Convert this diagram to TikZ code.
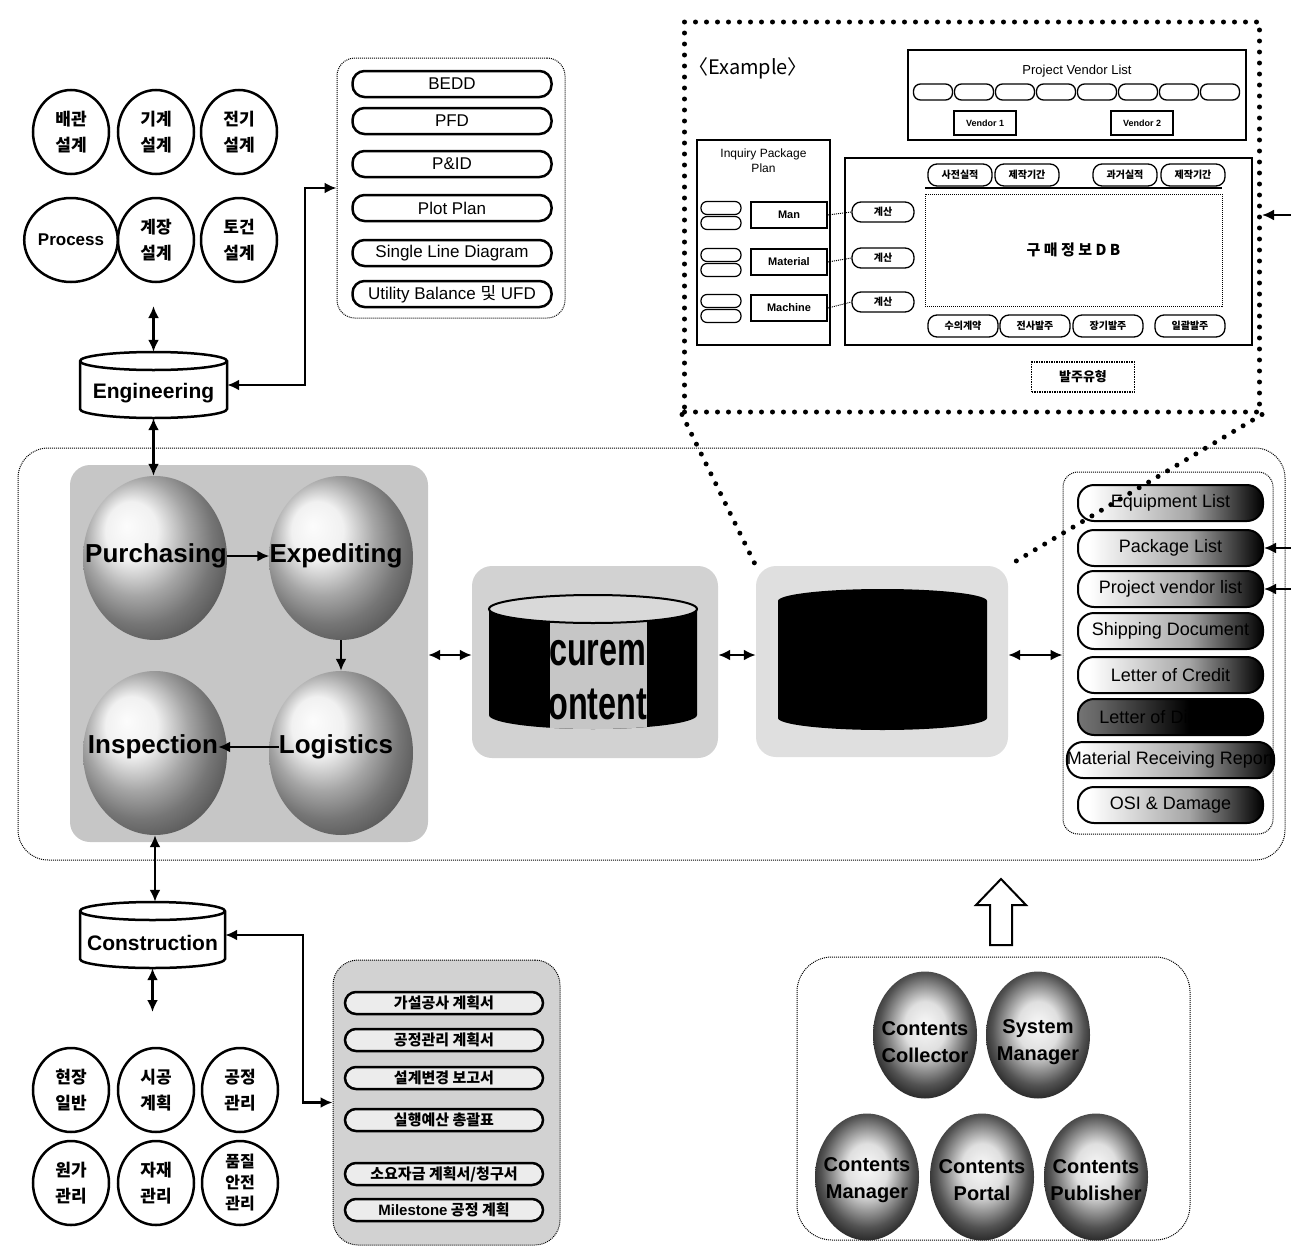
\documentclass[tikz,border=0pt]{standalone}
\usepackage{fontspec}
\setmainfont{Liberation Sans}
\newfontfamily\kr{Noto Sans CJK KR}
\usetikzlibrary{arrows.meta,shapes.geometric,shapes.misc,calc}
\pgfdeclarehorizontalshading{pillfade}{100bp}{color(0bp)=(white); color(28bp)=(white); color(55bp)=(gray!70); color(75bp)=(black); color(100bp)=(black)}
\pgfdeclarehorizontalshading{pilldark}{100bp}{color(0bp)=(gray!55); color(30bp)=(gray!80!black); color(55bp)=(black); color(100bp)=(black)}
\pgfdeclareradialshading{darkball}{\pgfpoint{0bp}{4bp}}{color(0bp)=(gray!5); color(10bp)=(gray!25); color(22bp)=(gray!65!black); color(32bp)=(black); color(50bp)=(black)}
\tikzset{
  ah/.tip={Latex[length=12pt,width=11pt]},
  conn/.style={line width=2.5pt, ah-ah},
  conn1/.style={line width=2.2pt, -ah},
  dotbox/.style={draw, densely dotted, line width=1pt, inner sep=0pt},
  bigdots/.style={line width=5pt, dash pattern=on 0pt off 11pt, line cap=round},
  greybox/.style={fill=gray!45, rounded corners=20pt, inner sep=0pt},
  circ/.style={ellipse, draw, line width=2.5pt, fill=white, minimum width=76pt, minimum height=84pt, inner sep=0pt, align=center, font=\kr\bfseries\fontsize{17}{26}\selectfont},
  tpill/.style={draw, line width=2.5pt, fill=white, rounded corners=12pt, minimum width=199pt, minimum height=26pt, inner sep=0pt, font=\fontsize{17}{17}\selectfont},
  bpill/.style={draw, line width=2.5pt, fill=gray!15, rounded corners=11pt, minimum width=198pt, minimum height=22pt, inner sep=0pt, font=\kr\bfseries\fontsize{15}{15}\selectfont},
  rpill/.style={draw, line width=2pt, shade, shading=pillfade, rounded corners=16pt, minimum width=185pt, minimum height=36pt, inner sep=0pt, font=\fontsize{18}{18}\selectfont},
  ball4/.style={ellipse, shade, ball color=gray!15, minimum width=144pt, minimum height=164pt, inner sep=0pt},
  bigtxt/.style={font=\bfseries\fontsize{26}{26}\selectfont, inner sep=0pt},
  dball/.style={ellipse, shade, shading=darkball, minimum width=104pt, minimum height=127pt, inner sep=0pt},
  balltxt/.style={align=center, inner sep=0pt, font=\bfseries\fontsize{20}{27}\selectfont},
  minipill/.style={draw, line width=1.3pt, fill=white, rounded corners=7pt, minimum width=39pt, minimum height=16pt, inner sep=0pt},
  vbox/.style={draw, line width=1.5pt, minimum width=62pt, minimum height=24pt, inner sep=0pt, font=\bfseries\fontsize{9}{9}\selectfont},
  rowbox/.style={draw, line width=2pt, minimum width=76pt, minimum height=26pt, inner sep=0pt, font=\bfseries\fontsize{11}{11}\selectfont},
  tinypill/.style={draw, line width=1.2pt, rounded corners=6pt, minimum width=40pt, minimum height=13pt, inner sep=0pt},
  kpill/.style={draw, line width=1.3pt, rounded corners=9pt, minimum width=62pt, minimum height=20pt, inner sep=0pt, font=\kr\bfseries\fontsize{10}{10}\selectfont},
}
\begin{document}
\begin{tikzpicture}[x=1pt,y=-1pt]
\useasboundingbox (0,0) rectangle (1291,1250);

% ---------- middle outer box ----------
\node[dotbox, rounded corners=30pt, minimum width=1267pt, minimum height=412pt] (mid) at (651.5,654) {};
\node[greybox, minimum width=358pt, minimum height=377pt] (cbox) at (249,653.5) {};
\node[greybox, fill=gray!35, minimum width=246pt, minimum height=192pt] (pbox) at (595,662) {};
\node[greybox, fill=gray!25, minimum width=252pt, minimum height=191pt] (bbox) at (882,661.5) {};

% four spheres
\node[ball4] (pc) at (155,558) {};
\node[ball4] (ec) at (341,558) {};
\node[ball4] (ic) at (155,753) {};
\node[ball4] (lc) at (341,753) {};
\node[bigtxt] (pt) at (156,556) {Purchasing};
\node[bigtxt] (et) at (336,556) {Expediting};
\node[bigtxt] (it) at (153,747) {Inspection};
\node[bigtxt] (lt) at (336,747) {Logistics};
\draw[conn1] (pt.east) -- (et.west);
\draw[conn1] (ec.south) -- (lc.north);
\draw[conn1] (lt.west) -- (it.east);

% procurement cylinder
\begin{scope}
\fill[black] (489,609) -- (489,715) arc[start angle=180,end angle=360,x radius=104pt,y radius=14pt] -- (697,609) arc[start angle=0,end angle=180,x radius=104pt,y radius=14pt] -- cycle;
\clip (489,609) -- (489,715) arc[start angle=180,end angle=360,x radius=104pt,y radius=14pt] -- (697,609) arc[start angle=0,end angle=180,x radius=104pt,y radius=14pt] -- cycle;
\clip (550,600) rectangle (647,740);
\fill[gray!45] (550,600) rectangle (647,740);
\node[inner sep=0pt, font=\bfseries\fontsize{36}{36}\selectfont] (ptx1) at (595,650) {\scalebox{0.9}[1.3]{Procurement}};
\node[inner sep=0pt, font=\bfseries\fontsize{36}{36}\selectfont] (ptx2) at (595,703) {\scalebox{0.9}[1.3]{Contents}};
\end{scope}
\draw[line width=2pt, fill=gray!30] (593,609) ellipse[x radius=104pt, y radius=14pt];

% black cylinder
\fill[black] (778,601) -- (778,718) arc[start angle=180,end angle=360,x radius=104.5pt,y radius=12pt] -- (987,601) arc[start angle=0,end angle=180,x radius=104.5pt,y radius=12pt] -- cycle;

% right list
\node[dotbox, rounded corners=15pt, minimum width=210pt, minimum height=362pt] (rbox) at (1168,653) {};
\node[rpill] (r1) at (1170.5,503) {Equipment List};
\node[rpill] (r2) at (1170.5,548) {Package List};
\node[rpill] (r3) at (1170.5,589) {Project vendor list};
\node[rpill] (r4) at (1170.5,631) {Shipping Document};
\node[rpill] (r5) at (1170.5,675) {Letter of Credit};
\node[rpill, shading=pilldark] (r6) at (1170.5,717) {Letter of Direction};
\node[rpill] (r7) at (1170.5,760) {Material Receiving Report};
\node[rpill] (r8) at (1170.5,805) {OSI \& Damage};
\coordinate (e2) at (1291,548);
\coordinate (e3) at (1291,589);
\draw[conn1] (e2) -- (r2.east);
\draw[conn1] (e3) -- (r3.east);

% middle connectors
\draw[conn] (cbox.east |- 0,655) -- (pbox.west |- 0,655);
\draw[conn] (pbox.east |- 0,655) -- (bbox.west |- 0,655);
\draw[conn] (bbox.east |- 0,655) -- (rbox.west |- 0,655);

% ---------- top left ----------
\node[circ] (c1) at (71,132) {배관\\설계};
\node[circ] (c2) at (156,132) {기계\\설계};
\node[circ] (c3) at (239,132) {전기\\설계};
\node[circ, font=\bfseries\fontsize{17}{17}\selectfont] (c4) at (71,240) {Process};
\node[circ] (c5) at (156,240) {계장\\설계};
\node[circ] (c6) at (239,240) {토건\\설계};

% Engineering cylinder
\draw[line width=2.5pt, fill=white] (80,361) -- (80,409) arc[start angle=180,end angle=360,x radius=73.5pt,y radius=9pt] -- (227,361) arc[start angle=0,end angle=180,x radius=73.5pt,y radius=9pt] -- cycle;
\draw[line width=2.5pt] (80,361) arc[start angle=180,end angle=360,x radius=73.5pt,y radius=9pt];
\node[minimum width=147pt, minimum height=66pt, inner sep=0pt] (eng) at (153.5,385) {};
\node[inner sep=0pt, font=\bfseries\fontsize{21}{21}\selectfont] (engt) at (153.5,393) {Engineering};

% top list
\node[dotbox, rounded corners=18pt, minimum width=228pt, minimum height=260pt] (tlist) at (451,188) {};
\node[tpill] (l1) at (452,84) {BEDD};
\node[tpill] (l2) at (452,121) {PFD};
\node[tpill] (l3) at (452,164) {P\&ID};
\node[tpill] (l4) at (452,208) {Plot Plan};
\node[tpill] (l5) at (452,253) {Single Line Diagram};
\node[tpill] (l6) at (452,294) {Utility Balance {\kr 및} UFD};

\coordinate (engtop) at (153.5,306);
\draw[conn] (engtop) -- (eng.north);
\draw[conn] (eng.south) -- (eng.south |- pc.north);
\draw[conn] (eng.east) -| (305,188) -- (tlist.west);

% ---------- bottom left ----------
\draw[line width=2.5pt, fill=white] (80,911) -- (80,959) arc[start angle=180,end angle=360,x radius=72.5pt,y radius=9pt] -- (225,911) arc[start angle=0,end angle=180,x radius=72.5pt,y radius=9pt] -- cycle;
\draw[line width=2.5pt] (80,911) arc[start angle=180,end angle=360,x radius=72.5pt,y radius=9pt];
\node[minimum width=145pt, minimum height=66pt, inner sep=0pt] (con) at (152.5,935) {};
\node[inner sep=0pt, font=\bfseries\fontsize{21}{21}\selectfont] (cont) at (152.5,943) {Construction};

\node[circ] (d1) at (71,1090) {현장\\일반};
\node[circ] (d2) at (156,1090) {시공\\계획};
\node[circ] (d3) at (240,1090) {공정\\관리};
\node[circ] (d4) at (71,1183) {원가\\관리};
\node[circ] (d5) at (156,1183) {자재\\관리};
\node[circ, font=\kr\bfseries\fontsize{16}{21}\selectfont] (d6) at (240,1183) {품질\\안전\\관리};

\node[dotbox, fill=gray!35, rounded corners=25pt, minimum width=227pt, minimum height=285pt] (blist) at (446.5,1102.5) {};
\node[bpill] (m1) at (444,1003) {가설공사 계획서};
\node[bpill] (m2) at (444,1040) {공정관리 계획서};
\node[bpill] (m3) at (444,1078) {설계변경 보고서};
\node[bpill] (m4) at (444,1120) {실행예산 총괄표};
\node[bpill] (m5) at (444,1174) {소요자금 계획서/청구서};
\node[bpill] (m6) at (444,1210) {{\fontspec{Liberation Sans}Milestone} 공정 계획};

\draw[conn] (ic.south) -- (ic.south |- con.north);
\coordinate (conbot) at (152.5,1012);
\draw[conn] (con.south) -- (conbot);
\draw[conn] (con.east) -| (303,1102.5) -- (blist.west);

% ---------- bottom right ----------
\draw[line width=2pt, fill=white] (990,945) -- (990,905) -- (976,905) -- (1001,879) -- (1026,905) -- (1012,905) -- (1012,945) -- cycle;
\node[dotbox, rounded corners=35pt, minimum width=393pt, minimum height=283pt] (brbox) at (993.5,1098.5) {};
\node[dball] (s1) at (925,1035) {};
\node[dball] (s2) at (1038,1035) {};
\node[dball] (s3) at (867,1177) {};
\node[dball] (s4) at (982,1177) {};
\node[dball] (s5) at (1096,1177) {};
\begin{scope}\clip (925,1035) ellipse[x radius=52pt, y radius=63pt];
\node[balltxt] (s1t) at (925,1042) {Contents\\Collector};\end{scope}
\begin{scope}\clip (1038,1035) ellipse[x radius=52pt, y radius=63pt];
\node[balltxt] (s2t) at (1038,1042) {System\\Manager};\end{scope}
\begin{scope}\clip (867,1177) ellipse[x radius=52pt, y radius=63pt];
\node[balltxt] (s3t) at (867,1180) {Contents\\Manager};\end{scope}
\begin{scope}\clip (982,1177) ellipse[x radius=52pt, y radius=63pt];
\node[balltxt] (s4t) at (982,1180) {Contents\\Portal};\end{scope}
\begin{scope}\clip (1096,1177) ellipse[x radius=52pt, y radius=63pt];
\node[balltxt] (s5t) at (1096,1180) {Contents\\Publisher};\end{scope}

% ---------- Example box ----------
\node[bigdots, draw, minimum width=575pt, minimum height=390pt, inner sep=0pt] (ex) at (972,217) {};
\draw[bigdots] (ex.south west) -- (bbox.north west);
\draw[bigdots] (ex.south east) -- (bbox.north east);
\coordinate (e0) at (1291,215);
\draw[conn1] (e0) -- (ex.east |- e0);

\node[anchor=west, inner sep=0pt, font=\kr\fontsize{20}{20}\selectfont] (exl) at (688,68) {〈Example〉};

\node[draw, line width=1.5pt, minimum width=338pt, minimum height=90pt, inner sep=0pt] (pvl) at (1077,95) {};
\node[inner sep=0pt, font=\fontsize{13}{13}\selectfont] (pvlt) at (1077,71) {Project Vendor List};
\foreach \i/\x in {1/933,2/974,3/1015,4/1056,5/1097,6/1138,7/1179,8/1220}
  \node[minipill] (v\i) at (\x,92) {};
\node[vbox] (vend1) at (985,123) {Vendor 1};
\node[vbox] (vend2) at (1142,123) {Vendor 2};

\node[draw, line width=1.5pt, minimum width=133pt, minimum height=205pt, inner sep=0pt] (ipp) at (763.5,242.5) {};
\node[align=center, inner sep=0pt, font=\fontsize{12}{15}\selectfont] (ippt) at (763.5,161) {Inquiry Package\\Plan};
\node[rowbox] (man) at (789,215) {Man};
\node[rowbox] (mat) at (789,262) {Material};
\node[rowbox] (mac) at (789,308) {Machine};
\node[tinypill] (p1a) at (721,208) {};
\node[tinypill] (p1b) at (721,223) {};
\node[tinypill] (p2a) at (721,255) {};
\node[tinypill] (p2b) at (721,270) {};
\node[tinypill] (p3a) at (721,301) {};
\node[tinypill] (p3b) at (721,316) {};

\node[draw, line width=2pt, minimum width=407pt, minimum height=187pt, inner sep=0pt] (mb) at (1048.5,251.5) {};
\node[kpill] (k1) at (883,212) {계산};
\node[kpill] (k2) at (883,258) {계산};
\node[kpill] (k3) at (883,302) {계산};
\draw[densely dotted, line width=1pt] (man.east) -- (k1.west);
\draw[densely dotted, line width=1pt] (mat.east) -- (k2.west);
\draw[densely dotted, line width=1pt] (mac.east) -- (k3.west);
\node[kpill, minimum width=64pt, minimum height=22pt] (t1) at (960,175) {사전실적};
\node[kpill, minimum width=64pt, minimum height=22pt] (t2) at (1027,175) {제작기간};
\node[kpill, minimum width=64pt, minimum height=22pt] (t3) at (1125,175) {과거실적};
\node[kpill, minimum width=64pt, minimum height=22pt] (t4) at (1193,175) {제작기간};
\draw[line width=2pt] (925,188) -- (1222,188);
\node[draw, densely dotted, line width=1pt, minimum width=297pt, minimum height=112pt, inner sep=0pt, font=\kr\bfseries\fontsize{15}{15}\selectfont] (db) at (1073.5,250) {구 매 정 보 D B};
\node[kpill, minimum width=70pt, minimum height=22pt] (b1) at (963,326) {수의계약};
\node[kpill, minimum width=70pt, minimum height=22pt] (b2) at (1035,326) {전사발주};
\node[kpill, minimum width=70pt, minimum height=22pt] (b3) at (1108,326) {장기발주};
\node[kpill, minimum width=70pt, minimum height=22pt] (b4) at (1190,326) {일괄발주};
\node[draw, densely dotted, line width=1.5pt, minimum width=103pt, minimum height=30pt, inner sep=0pt, font=\kr\bfseries\fontsize{13}{13}\selectfont] (otype) at (1083,377) {발주유형};

\end{tikzpicture}
\end{document}
